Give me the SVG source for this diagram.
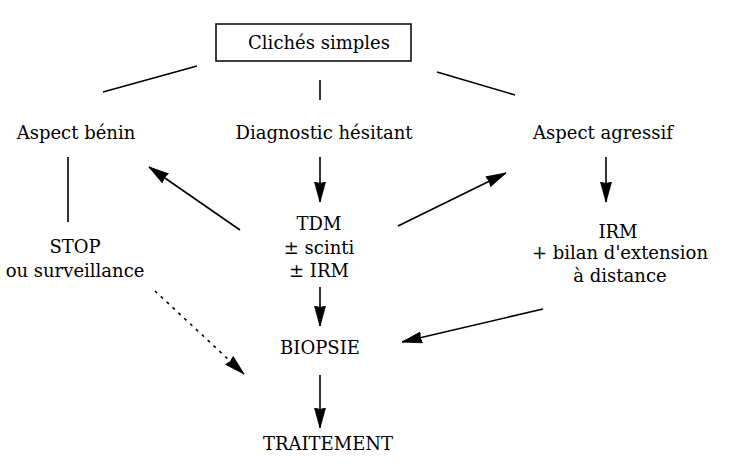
<svg xmlns="http://www.w3.org/2000/svg" width="745" height="466" viewBox="0 0 745 466">
<style>
text{font-family:"DejaVu Serif","Liberation Serif",serif;font-size:18px;fill:#000;text-anchor:middle}
.ln{stroke:#000;stroke-width:1.6;fill:none}
.dash{stroke-dasharray:3 5}
</style>
<defs>
<marker id="ah" markerWidth="22" markerHeight="13" refX="20" refY="6" orient="auto" markerUnits="userSpaceOnUse">
<path d="M0,0.5 L20,6 L0,11.5 L1.5,6 Z" fill="#000" stroke="#000" stroke-width="0.8" stroke-linejoin="round"/>
</marker>
</defs>
<rect width="745" height="466" fill="#fff"/>
<g id="cliches"><rect x="216" y="24" width="195" height="37" fill="none" stroke="#000" stroke-width="1.5"/><text x="319" y="49">Clichés simples</text></g>
<g id="benin"><text x="76" y="139">Aspect bénin</text></g>
<g id="hesitant"><text x="324" y="139">Diagnostic hésitant</text></g>
<g id="agressif"><text x="603" y="139">Aspect agressif</text></g>
<g id="stop"><text x="75" y="253">STOP</text><text x="75" y="277">ou surveillance</text></g>
<g id="tdm"><text x="319" y="230">TDM</text><text x="319" y="254">± scinti</text><text x="319" y="277">± IRM</text></g>
<g id="irm"><text x="618" y="238">IRM</text><text x="620" y="259">+ bilan d'extension</text><text x="620" y="282">à distance</text></g>
<g id="biopsie"><text x="320" y="354">BIOPSIE</text></g>
<g id="traitement"><text x="328" y="450">TRAITEMENT</text></g>
<g id="connectors">
<line class="ln" x1="197" y1="66" x2="103" y2="92"/>
<line class="ln" x1="320" y1="80" x2="320" y2="100"/>
<line class="ln" x1="437" y1="72" x2="515" y2="95"/>
<line class="ln" x1="68" y1="157" x2="68" y2="222"/>
<line class="ln" x1="320" y1="157" x2="320" y2="202" marker-end="url(#ah)"/>
<line class="ln" x1="606" y1="157" x2="606" y2="202" marker-end="url(#ah)"/>
<line class="ln" x1="240" y1="230" x2="149" y2="167" marker-end="url(#ah)"/>
<line class="ln" x1="398" y1="226" x2="506" y2="173" marker-end="url(#ah)"/>
<line class="ln" x1="320" y1="287" x2="320" y2="326" marker-end="url(#ah)"/>
<line class="ln dash" x1="155" y1="291" x2="244" y2="374" marker-end="url(#ah)"/>
<line class="ln" x1="543" y1="309" x2="402" y2="342" marker-end="url(#ah)"/>
<line class="ln" x1="320" y1="375" x2="320" y2="428" marker-end="url(#ah)"/>
</g>
</svg>
